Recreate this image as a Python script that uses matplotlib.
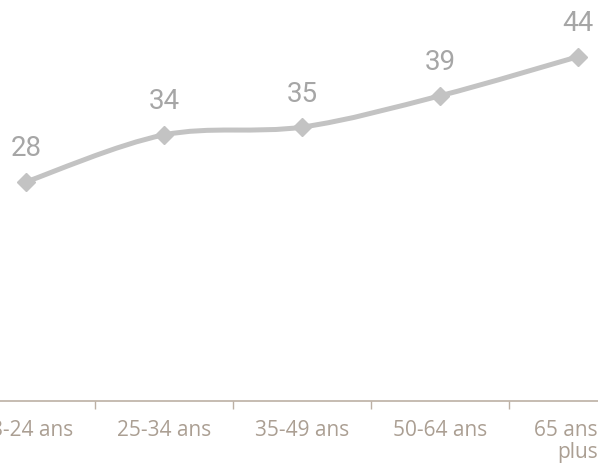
import numpy as np
import matplotlib
matplotlib.use("Agg")
import matplotlib.pyplot as plt
from matplotlib.path import Path
from matplotlib.patches import PathPatch

# ── Data ───────────────────────────────────────────────────────────────────
categories = ["18-24 ans", "25-34 ans", "35-49 ans", "50-64 ans", "65 ans et\nplus"]
values = [28, 34, 35, 39, 44]

LINE_C = "#c3c3c3"
LABEL_C = "#a6a6a6"
AXIS_C = "#bcb0a4"
TICK_C = "#ab9f93"


def smooth_path(xs, ys, tension=1 / 6):
    """Catmull-Rom style Bezier path through the points (Excel 'smoothed line')."""
    verts = [(xs[0], ys[0])]
    codes = [Path.MOVETO]
    n = len(xs)
    for i in range(n - 1):
        x0, y0 = (xs[i - 1], ys[i - 1]) if i > 0 else (xs[i], ys[i])
        x1, y1 = xs[i], ys[i]
        x2, y2 = xs[i + 1], ys[i + 1]
        x3, y3 = (xs[i + 2], ys[i + 2]) if i + 2 < n else (x2, y2)
        c1 = (x1 + (x2 - x0) * tension, y1 + (y2 - y0) * tension)
        c2 = (x2 - (x3 - x1) * tension, y2 - (y3 - y1) * tension)
        verts += [c1, c2, (x2, y2)]
        codes += [Path.CURVE4] * 3
    return Path(verts, codes)


fig = plt.figure(figsize=(5.98, 4.63), dpi=100)
ax = fig.add_axes([-0.072, 0.134, 1.154, 0.845])

x = np.arange(len(values))
patch = PathPatch(smooth_path(x, values), facecolor="none", edgecolor=LINE_C,
                  lw=3.6, capstyle="round", joinstyle="round", zorder=2)
ax.add_patch(patch)
ax.plot(x, values, linestyle="none", marker="D", ms=9.5, color=LINE_C,
        markeredgecolor=LINE_C, zorder=3)

for xi, v in zip(x, values):
    ax.annotate(f"{v}", (xi, v), xytext=(0, 14), textcoords="offset points",
                ha="center", va="bottom", fontsize=20, color=LABEL_C,
                family="Roboto")

ax.set_xlim(-0.5, len(values) - 0.5)
ax.set_ylim(0, 50)

ax.set_xticks(np.arange(len(values) - 1) + 0.5)
ax.set_xticklabels([])
ax.set_xticks(x, minor=True)
ax.set_xticklabels(categories, minor=True, fontsize=15, color=TICK_C,
                   family="Open Sans", linespacing=1.05)
ax.tick_params(axis="x", which="major", length=6, width=1, color=AXIS_C,
               direction="out")
ax.tick_params(axis="x", which="minor", length=0, pad=13.5)
ax.set_yticks([])

for side in ["top", "right", "left"]:
    ax.spines[side].set_visible(False)
ax.spines["bottom"].set_color(AXIS_C)
ax.spines["bottom"].set_linewidth(1.2)

fig.savefig("out.png", dpi=100)
